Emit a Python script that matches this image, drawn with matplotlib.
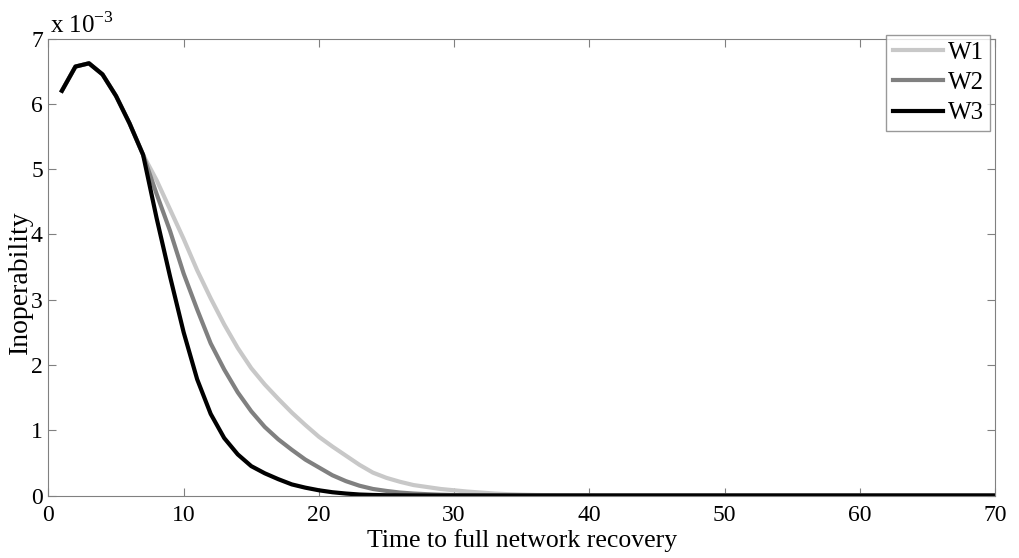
import numpy as np
import matplotlib.pyplot as plt
from matplotlib.ticker import FuncFormatter

plt.rcParams['font.family'] = ['Liberation Serif', 'DejaVu Serif']

# time steps
t = np.arange(1, 71)

# shared start (t = 1..7), values in units of 1e-3
head = [6.20, 6.57, 6.62, 6.45, 6.12, 5.70, 5.22]

w1_tail = [4.83, 4.38, 3.93, 3.45, 3.02, 2.62, 2.26, 1.95, 1.70, 1.48,
           1.27, 1.08, 0.90, 0.75, 0.61, 0.47, 0.35, 0.27, 0.21, 0.16,
           0.13, 0.10, 0.08, 0.06, 0.045, 0.03, 0.02, 0.013, 0.008, 0.005,
           0.003, 0.002, 0.001]
w2_tail = [4.62, 4.05, 3.40, 2.85, 2.33, 1.93, 1.58, 1.29, 1.05, 0.86,
           0.70, 0.55, 0.43, 0.31, 0.22, 0.15, 0.10, 0.07, 0.045, 0.03,
           0.02, 0.012, 0.007, 0.004, 0.002, 0.001]
w3_tail = [4.25, 3.35, 2.50, 1.78, 1.25, 0.88, 0.63, 0.45, 0.34, 0.25,
           0.17, 0.12, 0.08, 0.05, 0.03, 0.015, 0.008, 0.004, 0.002, 0.001]


def full(tail):
    vals = head + tail
    vals = vals + [0.0] * (len(t) - len(vals))
    return np.array(vals) * 1e-3


w1 = full(w1_tail)
w2 = full(w2_tail)
w3 = full(w3_tail)

fig = plt.figure(figsize=(10.19, 5.58), dpi=100)
ax = fig.add_axes([0.0475, 0.112, 0.929, 0.819])

ax.plot(t, w1, color='#c8c8c8', lw=3, label='W1')
ax.plot(t, w2, color='#808080', lw=3, label='W2')
ax.plot(t, w3, color='black', lw=3, label='W3')

ax.set_xlim(0, 70)
ax.set_ylim(0, 7e-3)
ax.set_xticks(np.arange(0, 71, 10))
ax.set_yticks(np.arange(0, 7.01e-3, 1e-3))
ax.yaxis.set_major_formatter(FuncFormatter(lambda v, _: f'{v * 1e3:g}'))
ax.tick_params(direction='in', top=True, right=True, length=6,
               color='#808080', labelsize=17)
ax.tick_params(axis='x', pad=7)
ax.tick_params(axis='y', pad=4)
for s in ax.spines.values():
    s.set_color('#808080')

ax.set_xlabel('Time to full network recovery', fontsize=18.5)
ax.xaxis.set_label_coords(0.5, -0.0735)
ax.set_ylabel('Inoperability', fontsize=20)
ax.yaxis.set_label_coords(-0.0165, 0.466)
fig.text(0.049, 0.941, r'x 10$^{\mathregular{-3}}$', fontsize=18,
         va='baseline')

leg = ax.legend(loc='upper right', bbox_to_anchor=(0.9715, 0.937),
                bbox_transform=fig.transFigure, fontsize=18, fancybox=False,
                handlelength=2.0, borderpad=0.25, labelspacing=0.31,
                handletextpad=0.2, borderaxespad=0)
leg.get_frame().set_edgecolor('#808080')
leg.get_frame().set_linewidth(1)

fig.savefig('out.png', dpi=100)
